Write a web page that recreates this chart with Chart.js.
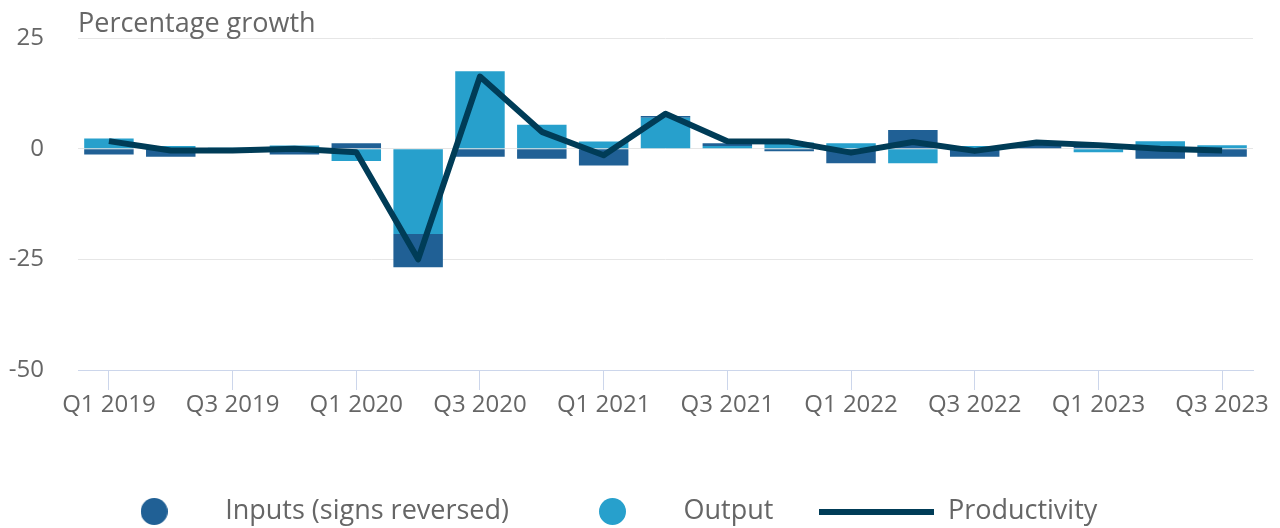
<!DOCTYPE html>
<html>
<head>
<meta charset="utf-8">
<script src="https://cdn.jsdelivr.net/npm/chart.js@4.4.1/dist/chart.umd.min.js"></script>
<style>
  html, body { margin: 0; padding: 0; background: #ffffff; }
  #wrap { width: 1280px; height: 528px; }
</style>
</head>
<body>
<div id="wrap"><canvas id="c" width="1280" height="528"></canvas></div>
<script>
// ---- data ----
const quarters = [
  'Q1 2019','Q2 2019','Q3 2019','Q4 2019',
  'Q1 2020','Q2 2020','Q3 2020','Q4 2020',
  'Q1 2021','Q2 2021','Q3 2021','Q4 2021',
  'Q1 2022','Q2 2022','Q3 2022','Q4 2022',
  'Q1 2023','Q2 2023','Q3 2023'
];
const inputsReversed = [-1.3, -1.8, -0.6, -1.3, 1.2, -7.5, -1.8, -2.3, -3.8, 0.4, 0.6, -0.6, -3.3, 4.2, -1.8, 0.9, 0.5, -2.3, -1.8];
const output         = [ 2.3,  0.6,  0.2,  0.7, -2.8, -19.3, 17.5, 5.4, 1.6, 7.0, 0.6, 1.4, 1.2, -3.3, 0.6, 0.1, -0.8, 1.7, 0.8];
const productivity   = [ 1.7, -0.4, -0.4,  0.0, -0.8, -25.0, 16.3, 3.8, -1.5, 7.9, 1.7, 1.6, -0.9, 1.5, -0.5, 1.4, 0.8, 0.0, -0.4];
const yTickValues = [-50, -25, 0, 25];
const seriesNames = ['Inputs (signs reversed)', 'Output', 'Productivity'];
const axisTitle = 'Percentage growth';

// ---- styles ----
const COL_INPUTS = '#206095';
const COL_OUTPUT = '#27a0cc';
const COL_PROD = '#003c57';
const TEXT = '#666666';

Chart.defaults.font.family = "'Open Sans', sans-serif";
Chart.defaults.font.size = 24;
Chart.defaults.color = TEXT;

function circleIcon(color) {
  const cv = document.createElement('canvas');
  cv.width = 27; cv.height = 27;
  const g = cv.getContext('2d');
  g.fillStyle = color;
  g.beginPath(); g.arc(13.5, 13.5, 13.5, 0, Math.PI * 2); g.fill();
  return cv;
}
function lineIcon(color) {
  const cv = document.createElement('canvas');
  cv.width = 115; cv.height = 6;
  const g = cv.getContext('2d');
  g.fillStyle = color;
  g.fillRect(0, 0, 115, 6);
  return cv;
}
const legendIcons = [circleIcon(COL_INPUTS), circleIcon(COL_OUTPUT), lineIcon(COL_PROD)];

const LEGEND_DX = -34;
const legendShift = {
  id: 'legendShift',
  afterLayout(chart) {
    const l = chart.legend;
    if (l) { l.left += LEGEND_DX; l.right += LEGEND_DX; }
  }
};

new Chart(document.getElementById('c'), {
  data: {
    labels: quarters,
    datasets: [
      { type: 'bar', label: seriesNames[0], data: inputsReversed, backgroundColor: COL_INPUTS, order: 2,
        barPercentage: 0.8, categoryPercentage: 1.0 },
      { type: 'bar', label: seriesNames[1], data: output, backgroundColor: COL_OUTPUT, order: 1,
        barPercentage: 0.8, categoryPercentage: 1.0 },
      { type: 'line', label: seriesNames[2], data: productivity, borderColor: COL_PROD, backgroundColor: COL_PROD,
        borderWidth: 6, pointRadius: 0, pointHoverRadius: 0, tension: 0, fill: false,
        borderJoinStyle: 'round', order: 0 }
    ]
  },
  options: {
    responsive: false,
    animation: false,
    layout: { padding: { left: 9, right: 27, top: 0, bottom: 0 } },
    scales: {
      x: {
        stacked: true,
        offset: true,
        grid: { display: true, drawOnChartArea: false, drawTicks: true, tickLength: 20, color: '#ccd6eb', offset: false },
        border: { display: true, color: '#ccd6eb', width: 1 },
        ticks: {
          autoSkip: false, maxRotation: 0, minRotation: 0, padding: 1, color: TEXT,
          font: { size: 24 },
          callback: function (val, i) { return i % 2 === 0 ? quarters[i] : null; }
        },
        afterFit: function (scale) { scale.height = 82; }
      },
      y: {
        stacked: true,
        min: yTickValues[0],
        max: yTickValues[yTickValues.length - 1],
        ticks: { stepSize: 25, padding: 34, color: TEXT, font: { size: 24 } },
        grid: { color: '#e6e6e6', drawTicks: false, lineWidth: 1 },
        border: { display: false },
        afterFit: function (scale) {
          scale.width = 69;
          scale.paddingTop = 0;
          scale.paddingBottom = 0;
        }
      }
    },
    plugins: {
      tooltip: { enabled: false },
      title: {
        display: true, text: axisTitle, align: 'start', position: 'top', fullSize: false,
        color: TEXT, font: { size: 27, weight: 'normal', lineHeight: 1.0 },
        padding: { top: 11, bottom: 0 }
      },
      legend: {
        display: true, position: 'bottom', align: 'center', maxHeight: 76,
        labels: {
          usePointStyle: true, pointStyleWidth: 115, boxHeight: 27, padding: 46,
          color: TEXT, font: { size: 27 },
          sort: (a, b) => a.datasetIndex - b.datasetIndex,
          generateLabels: function (chart) {
            const items = Chart.defaults.plugins.legend.labels.generateLabels(chart);
            items.forEach(it => { it.pointStyle = legendIcons[it.datasetIndex]; });
            return items;
          }
        }
      }
    }
  },
  plugins: [legendShift]
});
</script>
</body>
</html>
